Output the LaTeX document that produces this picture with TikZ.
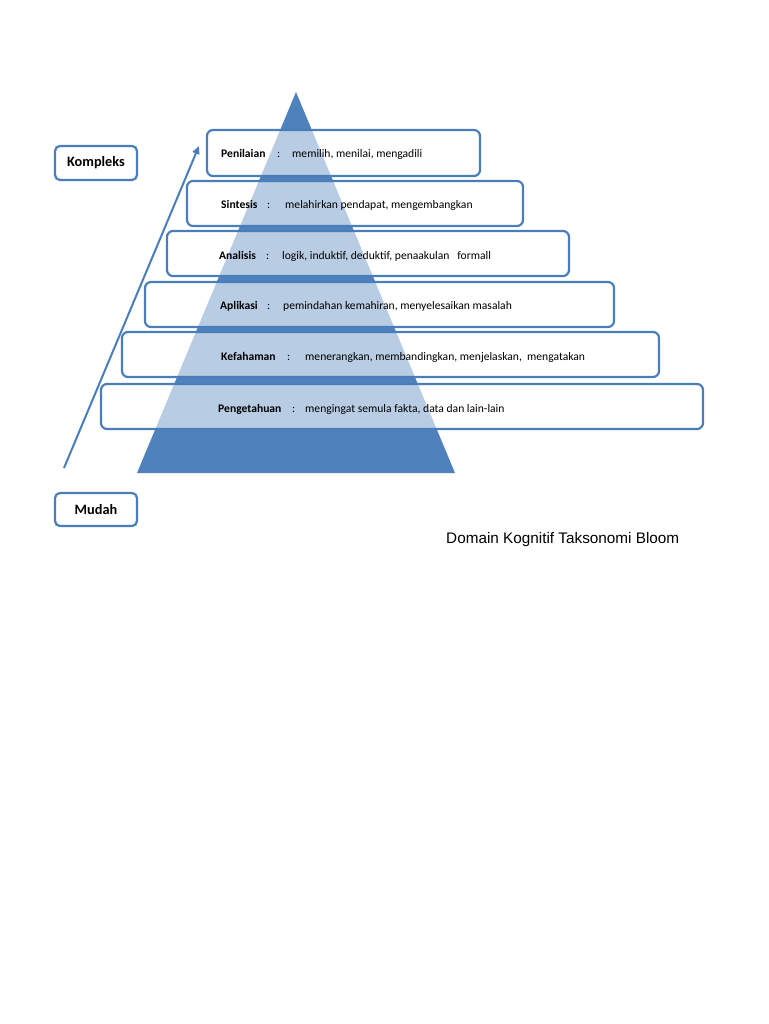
\documentclass[tikz,border=0pt]{standalone}
\usepackage{fontspec}
\setmainfont{Carlito}
\newfontfamily\capfont{Liberation Sans}
\usetikzlibrary{arrows.meta}
\definecolor{pyrblue}{HTML}{4F81BD}
\definecolor{boxline}{HTML}{4A7EBB}
\tikzset{
  levelbox/.style={draw=boxline, line width=2.2pt, rounded corners=6pt, fill=white, fill opacity=0.6, text opacity=1, inner sep=0pt},
  endbox/.style={draw=boxline, line width=2.2pt, rounded corners=5pt, fill=white, inner sep=0pt, minimum width=82pt, minimum height=34pt, font=\fontsize{14.3}{16}\selectfont\bfseries},
  lbl/.style={anchor=base west, inner sep=0pt, font=\fontsize{11.6}{13}\selectfont\bfseries},
  desc/.style={anchor=base west, inner sep=0pt, font=\fontsize{11.6}{13}\selectfont},
}
\begin{document}
\begin{tikzpicture}[x=1pt,y=-1pt]
\useasboundingbox (0,0) rectangle (768,1024);
% pyramid
\fill[pyrblue] (296,92) -- (455,473) -- (137,473) -- cycle;
% level boxes
\node[levelbox, minimum width=273pt, minimum height=46pt] (b1) at (343.5,153) {};
\node[levelbox, minimum width=336pt, minimum height=45pt] (b2) at (355,203.5) {};
\node[levelbox, minimum width=402pt, minimum height=45pt] (b3) at (368,253.5) {};
\node[levelbox, minimum width=469pt, minimum height=45pt] (b4) at (379.5,304.5) {};
\node[levelbox, minimum width=537pt, minimum height=45pt] (b5) at (390.5,354.5) {};
\node[levelbox, minimum width=602pt, minimum height=45pt] (b6) at (402,406.5) {};
% texts
\node[lbl] (l1) at (221,158) {Penilaian};
\node[desc] (c1) at (277,158) {:};
\node[desc] (d1) at (292,158) {memilih, menilai, mengadili};
\node[lbl] (l2) at (221,209) {Sintesis};
\node[desc] (c2) at (267,209) {:};
\node[desc] (d2) at (285,209) {melahirkan pendapat, mengembangkan};
\node[lbl] (l3) at (219,259) {Analisis};
\node[desc] (c3) at (266,259) {:};
\node[desc] (d3) at (282,259) {logik, induktif, deduktif, penaakulan~~ formall};
\node[lbl] (l4) at (220,309) {Aplikasi};
\node[desc] (c4) at (267,309) {:};
\node[desc] (d4) at (283,309) {pemindahan kemahiran, menyelesaikan masalah};
\node[lbl] (l5) at (221,360) {Kefahaman};
\node[desc] (c5) at (287,360) {:};
\node[desc] (d5) at (305,360) {menerangkan, membandingkan, menjelaskan,~ mengatakan};
\node[lbl] (l6) at (218,412) {Pengetahuan};
\node[desc] (c6) at (292,412) {:};
\node[desc] (d6) at (305,412) {mengingat semula fakta, data dan lain-lain};
% end boxes
\node[endbox] (komp) at (96,163) {Kompleks};
\node[endbox, minimum height=33pt] (mudah) at (96,509.5) {Mudah};
% arrow
\coordinate (astart) at (64,468);
\coordinate (aend) at (199,146);
\draw[boxline, line width=2pt, -{Triangle[length=8pt,width=7pt]}] (astart) -- (aend);
% caption
\node[anchor=west, inner sep=0pt, font=\capfont\fontsize{15.3}{18}\selectfont] (cap) at (446,540) {Domain Kognitif Taksonomi Bloom};
\end{tikzpicture}
\end{document}
